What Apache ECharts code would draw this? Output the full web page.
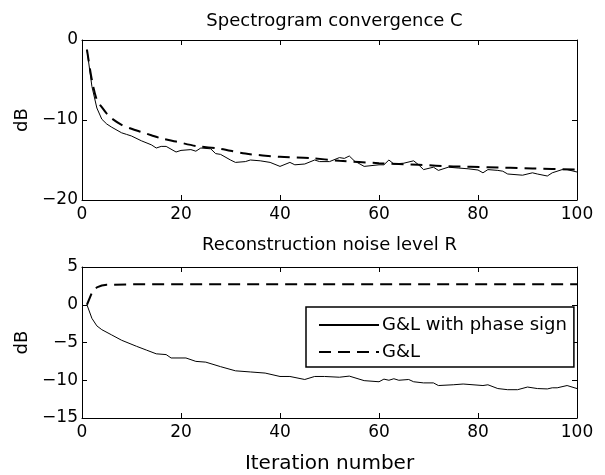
<!DOCTYPE html>
<html>
<head>
<meta charset="utf-8">
<script src="https://cdn.jsdelivr.net/npm/echarts@6/dist/echarts.min.js"></script>
<style>html,body{margin:0;padding:0;background:#fff;}#c{width:605px;height:475px;}</style>
</head>
<body>
<div id="c"></div>
<script>
// ---- Data ----
var topTitle = 'Spectrogram convergence C';
var bottomTitle = 'Reconstruction noise level R';
var xLabel = 'Iteration number';
var yLabel = 'dB';
var seriesNames = ['G&L with phase sign', 'G&L'];

// Top panel: spectrogram convergence C
var cPhaseX = [1, 2, 3, 4, 5, 6, 8, 9, 10, 12, 14, 15, 16, 17, 19, 20, 22, 23, 24, 26, 27, 28, 30, 31, 33, 34, 36, 38, 40, 42, 43, 45, 47, 48, 50, 52, 53, 54, 55, 57, 60, 61, 62, 63, 65, 67, 68, 69, 71, 72, 74, 76, 78, 80, 81, 82, 84, 85, 86, 89, 91, 92, 94, 95, 97, 98, 100];
var cPhaseY = [-1.2, -5.8, -8.5, -9.9, -10.5, -10.9, -11.6, -11.8, -12.0, -12.6, -13.1, -13.5, -13.3, -13.3, -14.0, -13.8, -13.7, -13.9, -13.5, -13.6, -14.2, -14.3, -15.0, -15.3, -15.2, -15.0, -15.1, -15.3, -15.8, -15.3, -15.6, -15.5, -15.0, -15.2, -15.2, -14.7, -14.8, -14.5, -15.1, -15.8, -15.6, -15.6, -15.0, -15.5, -15.4, -15.1, -15.6, -16.2, -15.9, -16.3, -15.9, -16.0, -16.1, -16.25, -16.6, -16.2, -16.3, -16.4, -16.75, -16.9, -16.6, -16.75, -17.0, -16.6, -16.2, -16.2, -16.5];
var cGLX = [1, 2, 3, 4, 5, 6, 8, 10, 12, 14, 16, 19, 23, 28, 33, 40, 46, 52, 60, 68, 75, 82, 91, 100];
var cGLY = [-1.2, -5.0, -7.5, -8.4, -9.2, -9.8, -10.6, -11.1, -11.5, -11.9, -12.3, -12.7, -13.25, -13.6, -14.2, -14.6, -14.75, -15.1, -15.4, -15.6, -15.8, -15.9, -16.05, -16.2];

// Bottom panel: reconstruction noise level R
var rPhaseX = [1, 2, 3, 4, 6, 8, 11, 13, 15, 17, 18, 21, 23, 25, 28, 31, 34, 37, 40, 42, 45, 47, 49, 52, 54, 57, 60, 61, 62, 63, 64, 66, 67, 69, 71, 72, 75, 77, 81, 82, 84, 86, 88, 90, 92, 94, 95, 96, 98, 100];
var rPhaseY = [0, -1.8, -2.8, -3.3, -4.0, -4.7, -5.5, -6.0, -6.5, -6.6, -7.05, -7.05, -7.5, -7.6, -8.2, -8.75, -8.9, -9.05, -9.5, -9.5, -9.9, -9.5, -9.5, -9.6, -9.45, -10.05, -10.2, -9.85, -10.0, -9.8, -10.0, -9.9, -10.2, -10.35, -10.35, -10.7, -10.6, -10.5, -10.7, -10.6, -11.1, -11.25, -11.25, -10.9, -11.1, -11.15, -11.0, -11.0, -10.7, -11.1];
var rGLX = [1, 2, 3, 4, 5, 10, 20, 40, 60, 80, 100];
var rGLY = [0, 1.6, 2.3, 2.55, 2.65, 2.7, 2.7, 2.7, 2.7, 2.7, 2.7];

var xTicks = {min: 0, max: 100, interval: 20};
var yTopTicks = {min: -20, max: 0, interval: 10};
var yBottomTicks = {min: -15, max: 5, interval: 5};

function pairs(xs, ys) { return xs.map(function (x, i) { return [x, ys[i]]; }); }

var FONT = 'DejaVu Sans';
var FS = 17;
function minusFmt(v) { return String(v).replace('-', '\u2212'); }

function xAxisDef(gridIndex, pos, showLabels, name, nameSize) {
  return {
    type: 'value', gridIndex: gridIndex, position: pos,
    min: xTicks.min, max: xTicks.max, interval: xTicks.interval,
    axisLine: {show: true, onZero: false, lineStyle: {color: '#000', width: 1}},
    axisTick: {show: true, inside: true, length: 5, lineStyle: {color: '#000'}},
    axisLabel: {show: showLabels, color: '#000', fontSize: FS, fontFamily: FONT, margin: 6, formatter: minusFmt},
    splitLine: {show: false},
    name: name || '', nameLocation: 'middle', nameGap: 36,
    nameTextStyle: {color: '#000', fontSize: nameSize || FS, fontFamily: FONT}
  };
}
function yAxisDef(gridIndex, pos, showLabels, ticks, name) {
  return {
    type: 'value', gridIndex: gridIndex, position: pos,
    min: ticks.min, max: ticks.max, interval: ticks.interval,
    axisLine: {show: true, onZero: false, lineStyle: {color: '#000', width: 1}},
    axisTick: {show: true, inside: true, length: 5, lineStyle: {color: '#000'}},
    axisLabel: {show: showLabels, color: '#000', fontSize: FS, fontFamily: FONT, margin: 4, formatter: minusFmt},
    splitLine: {show: false},
    name: name || '', nameLocation: 'middle', nameGap: 45, nameRotate: 90,
    nameTextStyle: {color: '#000', fontSize: 18, fontFamily: FONT}
  };
}

var solidStyle = {color: '#000', width: 1, type: 'solid'};
var dashStyle = {color: '#000', width: 2, type: [12, 7]};

var chart = echarts.init(document.getElementById('c'), null, {renderer: 'canvas'});
chart.setOption({
  animation: false,
  backgroundColor: '#fff',
  title: [{
    text: topTitle, left: 329.5, top: 7, textAlign: 'center',
    textStyle: {color: '#000', fontSize: 18, fontWeight: 'normal', fontFamily: FONT}
  }],
  grid: [
    {left: 82, right: 28, top: 40, height: 160},
    {left: 82, right: 28, top: 267, height: 151}
  ],
  xAxis: [
    xAxisDef(0, 'bottom', true, bottomTitle, 18),
    xAxisDef(0, 'top', false),
    xAxisDef(1, 'bottom', true, xLabel, 20),
    xAxisDef(1, 'top', false)
  ],
  yAxis: [
    yAxisDef(0, 'left', true, yTopTicks, yLabel),
    yAxisDef(0, 'right', false, yTopTicks),
    yAxisDef(1, 'left', true, yBottomTicks, yLabel),
    yAxisDef(1, 'right', false, yBottomTicks)
  ],
  legend: {
    data: seriesNames,
    orient: 'vertical',
    left: 306, top: 307,
    backgroundColor: '#fff',
    borderColor: '#000', borderWidth: 1.5, borderRadius: 0,
    padding: [9, 7, 6, 12],
    itemWidth: 60, itemHeight: 14, itemGap: 9,
    itemStyle: {opacity: 0},
    textStyle: {color: '#000', fontSize: 18, fontFamily: FONT, padding: [0, 0, 0, -2]}
  },
  series: [
    {name: 'C ' + seriesNames[0], type: 'line', xAxisIndex: 0, yAxisIndex: 0, data: pairs(cPhaseX, cPhaseY), symbol: 'none', lineStyle: solidStyle, silent: true, z: 3},
    {name: 'C ' + seriesNames[1], type: 'line', xAxisIndex: 0, yAxisIndex: 0, data: pairs(cGLX, cGLY), symbol: 'none', smooth: 0.3, lineStyle: dashStyle, silent: true, z: 2},
    {name: seriesNames[0], type: 'line', xAxisIndex: 2, yAxisIndex: 2, data: pairs(rPhaseX, rPhaseY), symbol: 'none', lineStyle: solidStyle, itemStyle: {color: '#000'}, silent: true, z: 3},
    {name: seriesNames[1], type: 'line', xAxisIndex: 2, yAxisIndex: 2, data: pairs(rGLX, rGLY), symbol: 'none', lineStyle: dashStyle, itemStyle: {color: '#000'}, silent: true, z: 2}
  ]
});
</script>
</body>
</html>
